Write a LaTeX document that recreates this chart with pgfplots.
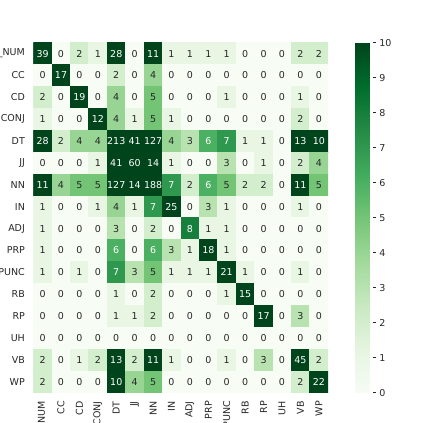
\documentclass[border=0pt]{standalone}
\usepackage{fontspec}
\setmainfont{DejaVu Sans}
\usepackage{pgfplots}
\pgfplotsset{compat=1.18}
\usepackage{pgfplotstable}
\pgfplotsset{/pgf/number format/assume math mode=true}
\definecolor{txt}{RGB}{38,38,38}
\newcommand{\lblfont}{\fontsize{9.5}{11}\selectfont}

% confusion matrix: x = predicted column, y = true row, v = count
\pgfplotstableread[row sep=\\]{
x y v\\
0 0 39\\ 1 0 0\\ 2 0 2\\ 3 0 1\\ 4 0 28\\ 5 0 0\\ 6 0 11\\ 7 0 1\\ 8 0 1\\ 9 0 1\\ 10 0 1\\ 11 0 0\\ 12 0 0\\ 13 0 0\\ 14 0 2\\ 15 0 2\\
0 1 0\\ 1 1 17\\ 2 1 0\\ 3 1 0\\ 4 1 2\\ 5 1 0\\ 6 1 4\\ 7 1 0\\ 8 1 0\\ 9 1 0\\ 10 1 0\\ 11 1 0\\ 12 1 0\\ 13 1 0\\ 14 1 0\\ 15 1 0\\
0 2 2\\ 1 2 0\\ 2 2 19\\ 3 2 0\\ 4 2 4\\ 5 2 0\\ 6 2 5\\ 7 2 0\\ 8 2 0\\ 9 2 0\\ 10 2 1\\ 11 2 0\\ 12 2 0\\ 13 2 0\\ 14 2 1\\ 15 2 0\\
0 3 1\\ 1 3 0\\ 2 3 0\\ 3 3 12\\ 4 3 4\\ 5 3 1\\ 6 3 5\\ 7 3 1\\ 8 3 0\\ 9 3 0\\ 10 3 0\\ 11 3 0\\ 12 3 0\\ 13 3 0\\ 14 3 2\\ 15 3 0\\
0 4 28\\ 1 4 2\\ 2 4 4\\ 3 4 4\\ 4 4 213\\ 5 4 41\\ 6 4 127\\ 7 4 4\\ 8 4 3\\ 9 4 6\\ 10 4 7\\ 11 4 1\\ 12 4 1\\ 13 4 0\\ 14 4 13\\ 15 4 10\\
0 5 0\\ 1 5 0\\ 2 5 0\\ 3 5 1\\ 4 5 41\\ 5 5 60\\ 6 5 14\\ 7 5 1\\ 8 5 0\\ 9 5 0\\ 10 5 3\\ 11 5 0\\ 12 5 1\\ 13 5 0\\ 14 5 2\\ 15 5 4\\
0 6 11\\ 1 6 4\\ 2 6 5\\ 3 6 5\\ 4 6 127\\ 5 6 14\\ 6 6 188\\ 7 6 7\\ 8 6 2\\ 9 6 6\\ 10 6 5\\ 11 6 2\\ 12 6 2\\ 13 6 0\\ 14 6 11\\ 15 6 5\\
0 7 1\\ 1 7 0\\ 2 7 0\\ 3 7 1\\ 4 7 4\\ 5 7 1\\ 6 7 7\\ 7 7 25\\ 8 7 0\\ 9 7 3\\ 10 7 1\\ 11 7 0\\ 12 7 0\\ 13 7 0\\ 14 7 1\\ 15 7 0\\
0 8 1\\ 1 8 0\\ 2 8 0\\ 3 8 0\\ 4 8 3\\ 5 8 0\\ 6 8 2\\ 7 8 0\\ 8 8 8\\ 9 8 1\\ 10 8 1\\ 11 8 0\\ 12 8 0\\ 13 8 0\\ 14 8 0\\ 15 8 0\\
0 9 1\\ 1 9 0\\ 2 9 0\\ 3 9 0\\ 4 9 6\\ 5 9 0\\ 6 9 6\\ 7 9 3\\ 8 9 1\\ 9 9 18\\ 10 9 1\\ 11 9 0\\ 12 9 0\\ 13 9 0\\ 14 9 0\\ 15 9 0\\
0 10 1\\ 1 10 0\\ 2 10 1\\ 3 10 0\\ 4 10 7\\ 5 10 3\\ 6 10 5\\ 7 10 1\\ 8 10 1\\ 9 10 1\\ 10 10 21\\ 11 10 1\\ 12 10 0\\ 13 10 0\\ 14 10 1\\ 15 10 0\\
0 11 0\\ 1 11 0\\ 2 11 0\\ 3 11 0\\ 4 11 1\\ 5 11 0\\ 6 11 2\\ 7 11 0\\ 8 11 0\\ 9 11 0\\ 10 11 1\\ 11 11 15\\ 12 11 0\\ 13 11 0\\ 14 11 0\\ 15 11 0\\
0 12 0\\ 1 12 0\\ 2 12 0\\ 3 12 0\\ 4 12 1\\ 5 12 1\\ 6 12 2\\ 7 12 0\\ 8 12 0\\ 9 12 0\\ 10 12 0\\ 11 12 0\\ 12 12 17\\ 13 12 0\\ 14 12 3\\ 15 12 0\\
0 13 0\\ 1 13 0\\ 2 13 0\\ 3 13 0\\ 4 13 0\\ 5 13 0\\ 6 13 0\\ 7 13 0\\ 8 13 0\\ 9 13 0\\ 10 13 0\\ 11 13 0\\ 12 13 0\\ 13 13 0\\ 14 13 0\\ 15 13 0\\
0 14 2\\ 1 14 0\\ 2 14 1\\ 3 14 2\\ 4 14 13\\ 5 14 2\\ 6 14 11\\ 7 14 1\\ 8 14 0\\ 9 14 0\\ 10 14 1\\ 11 14 0\\ 12 14 3\\ 13 14 0\\ 14 14 45\\ 15 14 2\\
0 15 2\\ 1 15 0\\ 2 15 0\\ 3 15 0\\ 4 15 10\\ 5 15 4\\ 6 15 5\\ 7 15 0\\ 8 15 0\\ 9 15 0\\ 10 15 0\\ 11 15 0\\ 12 15 0\\ 13 15 0\\ 14 15 2\\ 15 15 22\\
}\cm
% colour scale stops at 10
\pgfplotstablecreatecol[create col/expr={min(\thisrow{v},10)}]{c}\cm

\begin{document}
\begin{tikzpicture}
\path[use as bounding box] (0,0) rectangle (423pt,423pt);
\begin{axis}[
    at={(33.4pt,30.3pt)}, anchor=south west,
    scale only axis, width=294.6pt, height=350.1pt,
    xmin=-0.5, xmax=15.5, ymin=-0.5, ymax=15.5, y dir=reverse,
    axis line style={draw=none},
    major tick length=0pt,
    xtick={0,...,15}, ytick={0,...,15},
    xticklabels={\_NUM,CC,CD,CONJ,DT,JJ,NN,IN,ADJ,PRP,PUNC,RB,RP,UH,VB,WP},
    yticklabels={\_NUM,CC,CD,CONJ,DT,JJ,NN,IN,ADJ,PRP,PUNC,RB,RP,UH,VB,WP},
    ticklabel style={font=\lblfont, text=txt},
    xticklabel style={rotate=90, anchor=east},
    xticklabel shift=5pt, yticklabel shift=5pt,
    colormap={greens}{rgb255=(247,252,245) rgb255=(229,245,224) rgb255=(199,233,192)
        rgb255=(161,217,155) rgb255=(116,196,118) rgb255=(65,171,93)
        rgb255=(35,139,69) rgb255=(0,109,44) rgb255=(0,68,27)},
    point meta min=0, point meta max=10,
    colorbar,
    colorbar style={
        at={(parent axis.south east)}, anchor=south west, xshift=18.7pt,
        width=17.6pt, height=350.1pt,
        ytick={0,...,10},
        axis line style={draw=none},
        major tick length=3pt, tick align=outside,
        ytick pos=right, yticklabel pos=right,
        tick style={color=txt, line width=0.6pt},
        yticklabel style={font=\lblfont, text=txt},
    },
]
\addplot[matrix plot*, mesh/cols=16, mesh/rows=16,
    point meta=explicit] table[x=x, y=y, meta=c] {\cm};
\addplot[only marks, mark=none, point meta=explicit symbolic,
    nodes near coords={\pgfmathparse{\pgfplotspointmeta>5.5}%
        \ifdim\pgfmathresult pt>0.5pt\color{white}\else\color{txt}\fi\pgfplotspointmeta},
    nodes near coords align=center,
    nodes near coords style={anchor=center, font=\lblfont}]
    table[x=x, y=y, meta=v] {\cm};
\end{axis}
\end{tikzpicture}
\end{document}
